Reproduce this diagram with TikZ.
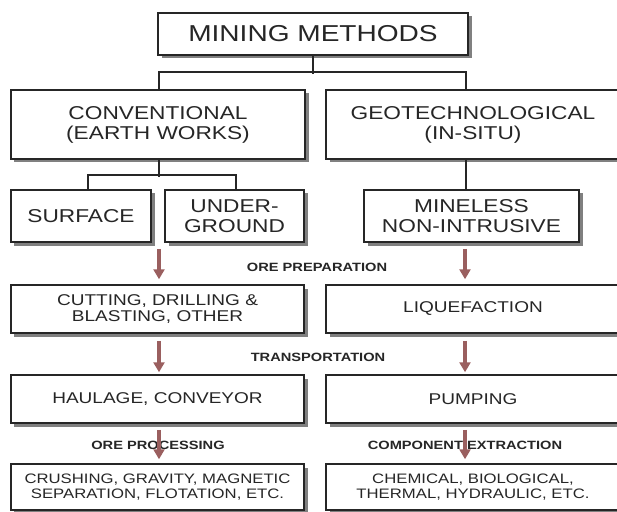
\documentclass[tikz,border=0pt]{standalone}
\usepackage{fontspec}
\setmainfont{Liberation Sans}[FakeStretch=1.22]
\usetikzlibrary{arrows.meta,shadows,calc}
\definecolor{arr}{HTML}{9A5F5F}
\definecolor{ink}{HTML}{262626}
\begin{document}
\begin{tikzpicture}[x=1bp,y=-1bp,
  box/.style={draw=ink, line width=1.5bp, fill=white, inner sep=0pt, align=center, text=ink,
    drop shadow={shadow xshift=3.5bp, shadow yshift=-3.5bp, fill=black!50, opacity=1}},
  big/.style={font=\fontsize{18.6bp}{20bp}\selectfont},
  mid/.style={font=\fontsize{15.6bp}{16.7bp}\selectfont},
  small/.style={font=\fontsize{13.7bp}{15.3bp}\selectfont},
  lbl/.style={font=\bfseries\fontsize{12bp}{14bp}\selectfont, text=ink},
  conn/.style={draw=ink, line width=1.5bp},
  flow/.style={draw=arr, line width=3.2bp, -{Triangle[width=11bp,length=10bp]}}]
\fill[white] (0,0) rectangle (617,512);
\useasboundingbox (0,0) rectangle (617,512);

\node[box, font=\fontsize{23bp}{24bp}\selectfont, minimum width=310bp, minimum height=42bp] (title) at (313,34) {MINING METHODS};
\node[box, big, minimum width=294bp, minimum height=69bp] (conv) at (158,124.5) {CONVENTIONAL\\(EARTH WORKS)};
\node[box, big, minimum width=294bp, minimum height=69bp] (geo) at (473,124.5) {GEOTECHNOLOGICAL\\(IN-SITU)};
\node[box, big, minimum width=140bp, minimum height=52bp] (surf) at (81,216) {SURFACE};
\node[box, big, minimum width=139bp, minimum height=52bp] (under) at (234.5,216) {UNDER-\\GROUND};
\node[box, big, minimum width=215bp, minimum height=52bp] (mine) at (471.5,216) {MINELESS\\NON-INTRUSIVE};

\node[box, mid, minimum width=293bp, minimum height=48bp] (cut) at (157.5,309) {CUTTING, DRILLING \&\\BLASTING, OTHER};
\node[box, mid, minimum width=294bp, minimum height=48bp] (liq) at (473,309) {LIQUEFACTION};
\node[box, mid, minimum width=293bp, minimum height=48bp] (haul) at (157.5,399) {HAULAGE, CONVEYOR};
\node[box, mid, minimum width=294bp, minimum height=48bp] (pump) at (473,399) {PUMPING};
\node[box, small, minimum width=293bp, minimum height=46bp] (crush) at (157.5,487) {CRUSHING, GRAVITY, MAGNETIC\\SEPARATION, FLOTATION, ETC.};
\node[box, small, minimum width=294bp, minimum height=46bp] (chem) at (473,487) {CHEMICAL, BIOLOGICAL,\\THERMAL, HYDRAULIC, ETC.};

\node[lbl] (lprep) at (317,267) {ORE PREPARATION};
\node[lbl] (ltrans) at (318,357) {TRANSPORTATION};
\node[lbl] (lproc) at (158,445) {ORE PROCESSING};
\node[lbl] (lcomp) at (465,445) {COMPONENT EXTRACTION};

% tree connectors
\draw[conn] (title.south) -- ++(0,18);
\draw[conn] ($(conv.north)+(1,0)$) -- ++(0,-17) -| ($(geo.north)+(-7,0)$);
\draw[conn] ($(conv.south)+(1,0)$) -- ++(0,17);
\draw[conn] ($(surf.north)+(7,0)$) -- ++(0,-14) -| ($(under.north)+(1.5,0)$);
\draw[conn] ($(geo.south)+(-7,0)$) -- ($(mine.north)+(-5.5,0)$);

% flow arrows
\coordinate (La) at (159,0);
\coordinate (Ra) at (465,0);
\draw[flow, shorten <=6bp, shorten >=5bp] (La |- under.south) -- (La |- cut.north);
\draw[flow, shorten <=6bp, shorten >=5bp] (Ra |- mine.south) -- (Ra |- liq.north);
\draw[flow, shorten <=7bp, shorten >=2bp] (La |- cut.south) -- (La |- haul.north);
\draw[flow, shorten <=7bp, shorten >=2bp] (Ra |- liq.south) -- (Ra |- pump.north);
\draw[flow, shorten <=6bp, shorten >=4bp] (La |- haul.south) -- (La |- crush.north);
\draw[flow, shorten <=6bp, shorten >=4bp] (Ra |- pump.south) -- (Ra |- chem.north);
\end{tikzpicture}
\end{document}
